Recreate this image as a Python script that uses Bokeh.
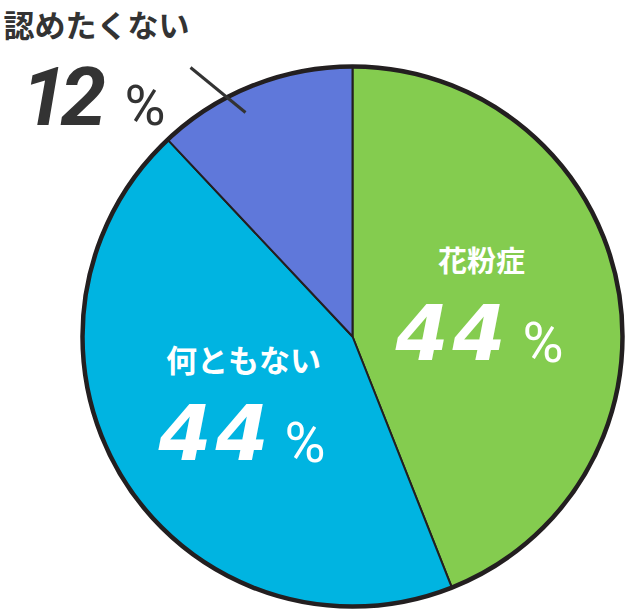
import math
from bokeh.plotting import figure
from bokeh.models import Range1d, ColumnDataSource
from bokeh.core.properties import value
from bokeh.embed import file_html
from bokeh.resources import INLINE

# ---- data ----
categories = ["花粉症", "何ともない", "認めたくない"]
percents = [44, 44, 12]
colors = ["#84cc4f", "#00b4e1", "#5f78da"]

W, H = 626, 610
p = figure(width=W, height=H, x_range=Range1d(0, W), y_range=Range1d(0, H),
           output_backend="svg", toolbar_location=None, min_border=0)
p.axis.visible = False
p.grid.visible = False
p.outline_line_color = None
p.background_fill_color = "white"
p.border_fill_color = "white"

def Y(sy):
    return H - sy

cx, cy, r = 352, Y(336), 270
total = sum(percents)
starts, ends = [], []
acc = 0.0
for v in percents:
    a0 = math.pi / 2 - 2 * math.pi * acc / total
    acc += v
    a1 = math.pi / 2 - 2 * math.pi * acc / total
    starts.append(a0)
    ends.append(a1)

src = ColumnDataSource(dict(start=starts, end=ends, color=colors, cat=categories, pct=percents))
p.wedge(x=cx, y=cy, radius=r, start_angle="start", end_angle="end", direction="clock",
        fill_color="color", line_color="#231f20", line_width=2, source=src)
p.circle(x=[cx], y=[cy], radius=r, fill_color=None, line_color="#231f20", line_width=4.5)

# leader line
p.line(x=[190, 245], y=[Y(67), Y(112)], line_color="#333333", line_width=3)

jp = value("Noto Sans CJK JP")
num = value("Roboto")
wide = value("DejaVu Sans")

def label(x, y, txt, size, color, font, style="bold", align="center", baseline="middle"):
    p.text(x=[x], y=[y], text=[txt], text_font=font, text_font_size=f"{size}px",
           text_font_style=style, text_color=color, text_align=align, text_baseline=baseline)

def number(x0, y_mid, n, size, color, advance, font):
    for i, ch in enumerate(str(n)):
        label(x0 + i * advance, y_mid, ch, size, color, font, style="bold italic", align="left")

# 花粉症
label(481, Y(258), categories[0], 29, "white", jp)
number(395, Y(331), percents[0], 76, "white", 57, wide)
label(522, Y(342), "%", 56, "white", num, style="normal", align="left")

# 何ともない
label(243, Y(358), categories[1], 31, "white", jp)
number(158, Y(431), percents[1], 76, "white", 57, wide)
label(284, Y(442), "%", 56, "#ffffff", num, style="normal", align="left")

# 認めたくない
label(96, Y(23), categories[2], 31, "#333333", jp)
number(21, Y(95), percents[2], 82, "#333333", 39, num)
label(124, Y(105), "%", 56, "#333333", num, style="normal", align="left")

open("out.html", "w").write(file_html(p, INLINE))
